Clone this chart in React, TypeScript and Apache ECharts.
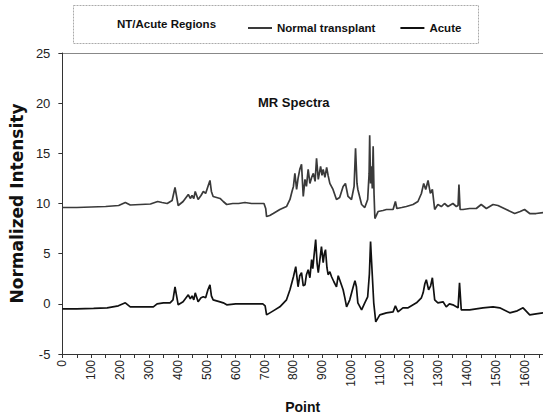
import React, { useEffect, useRef } from "react";
import * as echarts from "echarts";

// Normal transplant spectrum (offset around 10)
const ntPoint = [0, 50, 100, 150, 195, 218, 235, 270, 305, 330, 345, 363, 380, 390, 401, 418, 436, 443, 449, 455, 460, 470, 480, 488, 496, 504, 511, 516, 522, 534, 546, 557, 569, 590, 610, 632, 655, 680, 698, 704, 707, 718, 730, 753, 776, 788, 795, 800, 805, 811, 816, 822, 828, 834, 840, 845, 851, 857, 863, 869, 875, 880, 886, 894, 899, 903, 909, 915, 920, 926, 937, 949, 960, 972, 980, 989, 1001, 1010, 1015, 1020, 1023, 1036, 1047, 1057, 1062, 1064, 1067, 1070, 1073, 1076, 1079, 1082, 1093, 1110, 1122, 1145, 1153, 1158, 1175, 1191, 1214, 1231, 1243, 1251, 1258, 1266, 1274, 1281, 1289, 1300, 1312, 1323, 1335, 1352, 1364, 1370, 1373, 1377, 1387, 1410, 1433, 1450, 1468, 1491, 1508, 1537, 1566, 1585, 1600, 1618, 1640, 1664];
const ntValue = [9.6, 9.6, 9.65, 9.7, 9.8, 10.1, 9.85, 9.9, 9.95, 10.2, 10.1, 10.0, 10.3, 11.6, 9.8, 10.2, 10.9, 10.5, 10.8, 10.5, 11.2, 10.4, 10.8, 11.2, 11.0, 11.7, 12.3, 11.2, 10.7, 10.6, 10.5, 10.2, 9.9, 10.0, 10.0, 10.1, 10.0, 10.0, 10.0, 9.5, 8.7, 8.8, 9.0, 9.4, 9.7, 10.4, 11.2, 11.7, 13.0, 11.4, 12.5, 13.4, 13.9, 10.7, 12.4, 11.7, 13.4, 12.0, 12.6, 13.0, 12.2, 14.5, 12.4, 13.7, 12.8, 13.4, 12.6, 13.6, 12.8, 12.0, 11.4, 10.4, 10.6, 11.7, 12.0, 10.7, 10.4, 11.7, 15.5, 12.0, 11.4, 9.9, 9.6, 10.4, 13.0, 16.8, 12.0, 13.7, 11.5, 15.7, 11.0, 8.5, 9.2, 9.3, 9.4, 9.4, 10.2, 9.5, 9.6, 9.7, 9.9, 10.2, 11.0, 12.0, 11.4, 12.3, 11.0, 11.4, 9.4, 9.9, 9.7, 10.0, 9.7, 10.0, 9.7, 9.8, 11.9, 9.4, 9.4, 9.5, 9.5, 9.9, 9.5, 9.9, 9.8, 9.4, 9.0, 9.2, 9.4, 9.0, 9.0, 9.1];

// Acute spectrum (around 0)
const acutePoint = [0, 50, 108, 155, 194, 218, 235, 270, 315, 328, 350, 373, 383, 390, 401, 418, 436, 443, 449, 455, 460, 470, 480, 488, 496, 504, 511, 516, 522, 546, 557, 569, 600, 650, 694, 702, 707, 730, 753, 776, 788, 800, 808, 816, 822, 828, 834, 840, 845, 851, 857, 863, 867, 871, 877, 882, 886, 892, 897, 903, 907, 911, 916, 920, 926, 932, 940, 949, 955, 960, 966, 972, 978, 984, 995, 1007, 1013, 1018, 1023, 1036, 1047, 1057, 1063, 1067, 1070, 1072, 1078, 1085, 1099, 1122, 1145, 1153, 1162, 1179, 1197, 1226, 1243, 1249, 1255, 1260, 1268, 1275, 1281, 1289, 1300, 1318, 1329, 1340, 1352, 1370, 1375, 1381, 1410, 1456, 1491, 1514, 1549, 1575, 1595, 1618, 1640, 1664];
const acuteValue = [-0.5, -0.5, -0.45, -0.4, -0.2, 0.1, -0.3, -0.3, -0.3, 0.0, 0.1, 0.1, 0.4, 1.7, -0.1, 0.2, 0.9, 0.5, 0.8, 0.4, 1.1, 0.2, 0.6, 0.7, 0.6, 1.4, 1.9, 0.8, 0.4, 0.2, 0.1, -0.1, 0.0, 0.0, 0.0, -0.2, -1.1, -0.7, -0.3, 0.4, 1.4, 2.7, 3.7, 1.7, 2.8, 3.1, 1.8, 1.9, 2.9, 3.4, 2.6, 4.4, 3.5, 4.7, 6.4, 4.0, 3.1, 4.5, 5.7, 4.1, 5.0, 5.4, 3.6, 2.9, 3.2, 2.7, 2.2, 1.7, 2.8, 2.4, 1.9, 1.4, 0.6, -0.3, 0.4, 1.7, 2.3, 1.7, 0.1, -0.6, 0.1, 0.7, 3.0, 6.2, 4.5, 3.4, 0.1, -1.8, -1.1, -0.9, -0.8, -0.2, -0.8, -0.4, -0.4, 0.1, 0.6, 1.1, 2.0, 2.4, 1.4, 1.8, 2.6, 0.4, 0.1, 0.2, -0.3, 0.0, -0.1, -0.4, 2.1, -0.6, -0.6, -0.4, -0.3, -0.4, -0.9, -0.7, -0.4, -1.1, -1.0, -0.9];

const seriesNames = ["Normal transplant", "Acute"];
const legendTitle = "NT/Acute Regions";
const chartTitle = "MR Spectra";
const xName = "Point";
const yName = "Normalized Intensity";

const FONT = "'Liberation Sans', Arial, sans-serif";

export default function App() {
  const ref = useRef<HTMLDivElement>(null);
  useEffect(() => {
    document.body.style.margin = "0";
    const chart = echarts.init(ref.current!, null, { renderer: "svg" });
    const nt = ntPoint.map((p, i) => [p, ntValue[i]]);
    const ac = acutePoint.map((p, i) => [p, acuteValue[i]]);
    chart.setOption({
      animation: false,
      textStyle: { fontFamily: FONT },
      title: {
        text: chartTitle,
        left: 253,
        top: 91,
        textStyle: { fontFamily: FONT, fontSize: 13, fontWeight: "bold", color: "#111" },
      },
      legend: {
        data: seriesNames,
        left: 243,
        top: 17,
        icon: "rect",
        itemWidth: 24,
        itemHeight: 2,
        itemGap: 25,
        textStyle: { fontFamily: FONT, fontSize: 11.5, fontWeight: "bold", color: "#111" },
      },
      graphic: [
        {
          type: "rect",
          shape: { x: 73.5, y: 5.5, width: 405, height: 38 },
          style: { fill: "none", stroke: "#aaa", lineWidth: 1, lineDash: [2, 1] },
        },
        {
          type: "text",
          x: 117,
          y: 24,
          style: {
            text: legendTitle,
            fontFamily: FONT,
            fontSize: 11.5,
            fontWeight: "bold",
            fill: "#111",
            verticalAlign: "middle",
          },
        },
        {
          type: "line",
          shape: { x1: 62, y1: 53.5, x2: 543, y2: 53.5 },
          style: { stroke: "#888", lineWidth: 1 },
        },
      ],
      grid: { left: 62, right: 0, top: 53, bottom: 66 },
      xAxis: {
        type: "value",
        min: 0,
        max: 1664,
        interval: 50,
        name: xName,
        nameLocation: "middle",
        nameGap: 46,
        nameTextStyle: { fontFamily: FONT, fontSize: 14, fontWeight: "bold", color: "#111" },
        axisLine: { onZero: false, lineStyle: { color: "#333" } },
        axisTick: { length: 4, lineStyle: { color: "#333" } },
        splitLine: { show: false },
        axisLabel: {
          rotate: 90,
          fontSize: 12,
          color: "#222",
          margin: 6,
          showMaxLabel: false,
          formatter: (v: number) => (v % 100 === 0 ? String(v) : ""),
        },
      },
      yAxis: {
        type: "value",
        min: -5,
        max: 25,
        interval: 5,
        name: yName,
        nameLocation: "middle",
        nameGap: 28,
        nameTextStyle: { fontFamily: "'DejaVu Sans', sans-serif", fontSize: 17, fontWeight: "bold", color: "#111" },
        axisLine: { show: true, onZero: false, lineStyle: { color: "#333" } },
        axisTick: { show: true, length: 4, lineStyle: { color: "#333" } },
        splitLine: { show: false },
        axisLabel: { fontSize: 13, color: "#222", margin: 12 },
      },
      series: [
        {
          name: seriesNames[0],
          type: "line",
          data: nt,
          symbol: "none",
          lineStyle: { color: "#3a3a3a", width: 1.7 },
          itemStyle: { color: "#3a3a3a" },
        },
        {
          name: seriesNames[1],
          type: "line",
          data: ac,
          symbol: "none",
          lineStyle: { color: "#111", width: 1.7 },
          itemStyle: { color: "#111" },
        },
      ],
    });
    return () => chart.dispose();
  }, []);
  return <div ref={ref} style={{ width: 543, height: 420 }} />;
}
